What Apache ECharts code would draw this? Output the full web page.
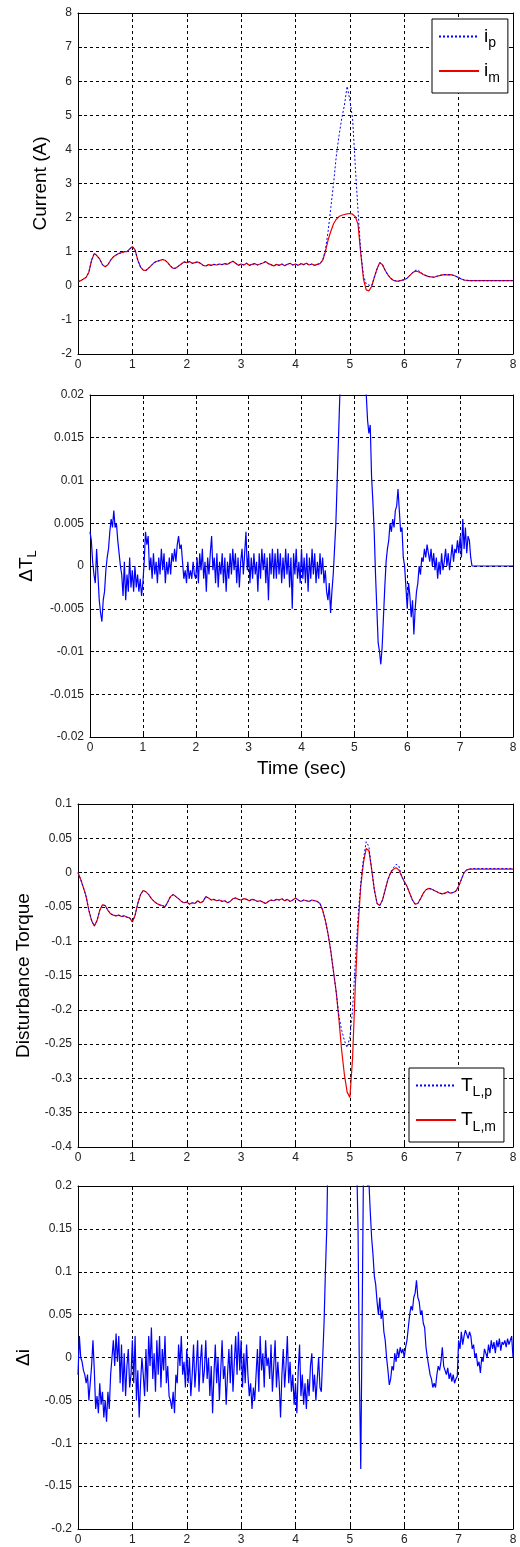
<!DOCTYPE html>
<html>
<head>
<meta charset="utf-8">
<script src="https://cdn.jsdelivr.net/npm/echarts@6/dist/echarts.min.js"></script>
<style>
html,body{margin:0;padding:0;background:#fff;}
#c{width:520px;height:1547px;}
</style>
</head>
<body>
<div id="c"></div>
<script>
// ---------- Data ----------
const xTicks = [0,1,2,3,4,5,6,7,8];
const STEP_SMOOTH = 0.05;   // sampling of panels 1 and 3
const STEP_NOISY = 0.025;   // sampling of panels 2 and 4

// Panel 1: Current (A)
const currentIm = [
0.12,0.15,0.2,0.25,0.4,0.75,0.95,0.88,0.78,0.62,
0.56,0.62,0.75,0.85,0.9,0.95,0.97,1.0,1.0,1.08,
1.15,1.05,0.75,0.55,0.46,0.45,0.52,0.6,0.68,0.72,
0.74,0.77,0.75,0.68,0.58,0.51,0.52,0.58,0.64,0.7,
0.68,0.71,0.66,0.68,0.7,0.66,0.6,0.58,0.62,0.6,
0.63,0.61,0.64,0.62,0.65,0.63,0.68,0.72,0.66,0.6,
0.64,0.61,0.66,0.6,0.63,0.65,0.61,0.64,0.67,0.71,
0.65,0.62,0.58,0.63,0.6,0.64,0.59,0.63,0.66,0.61,
0.64,0.6,0.65,0.62,0.66,0.61,0.64,0.6,0.63,0.65,
0.75,1.0,1.35,1.6,1.82,1.95,2.03,2.07,2.09,2.11,
2.12,2.1,2.03,1.8,0.95,0.2,-0.12,-0.15,-0.02,0.25,
0.5,0.68,0.62,0.45,0.32,0.22,0.16,0.14,0.14,0.16,
0.18,0.22,0.3,0.38,0.43,0.42,0.38,0.33,0.3,0.27,
0.26,0.25,0.28,0.3,0.32,0.33,0.32,0.33,0.31,0.28,
0.24,0.2,0.17,0.16,0.15,0.15,0.15,0.15,0.15,0.15,
0.15,0.15,0.15,0.15,0.15,0.15,0.15,0.15,0.15,0.15,
0.15
];
const currentIp = [
0.12,0.15,0.2,0.25,0.4,0.75,0.95,0.88,0.78,0.62,
0.56,0.62,0.75,0.85,0.9,0.95,0.97,1.0,1.0,1.08,
1.15,1.05,0.75,0.55,0.46,0.45,0.52,0.6,0.68,0.72,
0.74,0.77,0.75,0.68,0.58,0.51,0.52,0.58,0.64,0.7,
0.68,0.71,0.66,0.68,0.7,0.66,0.6,0.58,0.62,0.6,
0.63,0.61,0.64,0.62,0.65,0.63,0.68,0.72,0.66,0.6,
0.64,0.61,0.66,0.6,0.63,0.65,0.61,0.64,0.67,0.71,
0.65,0.62,0.58,0.63,0.6,0.64,0.59,0.63,0.66,0.61,
0.64,0.6,0.65,0.62,0.66,0.61,0.64,0.6,0.63,0.65,
0.75,1.05,1.6,2.3,3.0,3.8,4.4,4.9,5.3,5.85,
5.45,4.9,3.5,2.2,1.0,0.3,0.05,0.02,0.0,0.25,
0.5,0.68,0.62,0.45,0.32,0.22,0.16,0.14,0.14,0.16,
0.18,0.22,0.3,0.38,0.45,0.47,0.4,0.33,0.3,0.27,
0.26,0.25,0.28,0.3,0.32,0.33,0.32,0.33,0.31,0.28,
0.24,0.2,0.17,0.16,0.15,0.15,0.15,0.15,0.15,0.15,
0.15,0.15,0.15,0.15,0.15,0.15,0.15,0.15,0.15,0.15,
0.15
];

// Panel 2: Delta T_L
const deltaTL = [
0.004,0.003,0.0005,-0.001,-0.002,0.002,-0.001,-0.004,-0.0055,-0.0065,-0.004,-0.003,-0.0005,0.001,0.002,0.004,0.0055,0.0045,0.0065,0.0045,
0.005,0.003,0.0015,0.0,-0.001,-0.0035,0.0005,-0.004,-0.001,-0.003,0.001,-0.0025,-0.0005,-0.003,0.0,-0.0025,-0.001,-0.003,-0.0015,-0.0035,
-0.002,0.0005,0.004,0.0025,0.0035,-0.0005,0.001,-0.0015,0.0015,-0.001,0.0005,-0.002,0.001,-0.001,0.002,-0.0005,0.0015,-0.002,0.0005,-0.001,
0.001,-0.001,0.0015,0.0005,0.002,0.0005,0.0025,0.0035,0.002,0.0025,0.0005,-0.0015,-0.0005,-0.002,0.0005,-0.0015,-0.0005,-0.0015,0.0005,-0.001,
-0.0015,0.001,-0.002,0.0015,-0.0005,0.002,-0.0015,0.0005,-0.003,0.001,-0.001,0.0015,0.0035,-0.0005,0.001,-0.002,0.0015,-0.0025,0.0005,-0.001,
0.0015,-0.002,0.001,-0.003,0.0005,-0.0015,0.0015,-0.001,0.002,-0.0005,0.0015,-0.002,0.001,-0.0025,0.0005,0.002,-0.001,0.0015,0.004,-0.0005,
0.0015,-0.002,0.001,-0.0015,0.0015,-0.001,0.0005,-0.003,0.0015,-0.0015,0.002,-0.0005,0.0015,-0.002,0.001,-0.004,0.0015,-0.001,0.002,-0.0015,
0.0015,-0.0015,0.002,-0.001,0.0015,-0.002,0.001,-0.0015,0.002,-0.001,0.0015,-0.0025,0.001,-0.005,0.0015,-0.001,0.002,-0.0015,0.0005,-0.002,
0.002,-0.0015,0.001,-0.002,0.0015,-0.003,0.001,-0.0015,0.002,-0.001,0.0015,-0.002,0.0005,-0.0015,0.0015,-0.001,0.001,-0.002,-0.0005,-0.003,
-0.004,-0.002,-0.0055,-0.003,-0.001,0.002,0.005,0.01,0.015,0.02,0.026,0.032,0.038,0.042,0.045,0.047,0.048,0.048,0.047,0.046,
0.045,0.043,0.04,0.037,0.035,0.032,0.03,0.027,0.024,0.02,0.017,0.0155,0.0165,0.0105,0.0075,0.004,-0.001,-0.005,-0.009,-0.01,
-0.0115,-0.0095,-0.006,-0.0025,0.0005,0.002,0.003,0.005,0.004,0.0055,0.0045,0.0065,0.007,0.009,0.0065,0.004,0.0045,0.001,0.0,-0.0025,
-0.005,-0.002,-0.0035,-0.006,-0.004,-0.008,-0.005,-0.003,-0.002,0.0,-0.001,0.001,0.0005,0.002,0.001,0.0025,0.0015,0.0005,0.002,0.0,
0.0015,-0.0005,0.001,-0.0015,0.0005,-0.001,0.0015,-0.0005,0.0005,0.002,0.0,0.0015,-0.0005,0.001,0.0025,0.0005,0.002,0.0015,0.003,0.0015,
0.0035,0.001,0.0055,0.002,0.0045,0.0015,0.0035,0.003,0.001,0.0,0,0,0,0,0,0,0,0,0,0,
0,0,0,0,0,0,0,0,0,0,0,0,0,0,0,0,0,0,0,0,
0
];

// Panel 3: Disturbance torque
const torqueTm = [
0.0,-0.01,-0.022,-0.035,-0.055,-0.07,-0.078,-0.07,-0.055,-0.047,
-0.048,-0.055,-0.06,-0.062,-0.063,-0.062,-0.064,-0.063,-0.065,-0.066,
-0.072,-0.062,-0.045,-0.032,-0.026,-0.028,-0.032,-0.038,-0.042,-0.045,
-0.047,-0.048,-0.05,-0.043,-0.035,-0.032,-0.035,-0.038,-0.042,-0.044,
-0.043,-0.046,-0.044,-0.045,-0.041,-0.044,-0.042,-0.035,-0.037,-0.04,
-0.039,-0.041,-0.04,-0.042,-0.041,-0.044,-0.042,-0.038,-0.037,-0.039,
-0.04,-0.038,-0.039,-0.041,-0.039,-0.04,-0.042,-0.041,-0.043,-0.045,
-0.042,-0.04,-0.041,-0.039,-0.04,-0.038,-0.041,-0.039,-0.042,-0.04,
-0.037,-0.04,-0.042,-0.04,-0.041,-0.042,-0.04,-0.041,-0.042,-0.045,
-0.055,-0.07,-0.09,-0.115,-0.145,-0.175,-0.215,-0.26,-0.295,-0.32,
-0.328,-0.27,-0.165,-0.08,-0.02,0.015,0.035,0.032,0.005,-0.025,
-0.045,-0.048,-0.04,-0.025,-0.01,0.0,0.005,0.007,0.004,-0.005,
-0.013,-0.02,-0.03,-0.04,-0.046,-0.045,-0.038,-0.03,-0.025,-0.023,
-0.024,-0.026,-0.028,-0.03,-0.031,-0.03,-0.028,-0.03,-0.029,-0.027,
-0.02,-0.01,0.0,0.004,0.005,0.005,0.005,0.005,0.005,0.005,
0.005,0.005,0.005,0.005,0.005,0.005,0.005,0.005,0.005,0.005,
0.005
];
const torqueTp = [
0.0,-0.01,-0.022,-0.035,-0.055,-0.07,-0.078,-0.07,-0.055,-0.047,
-0.048,-0.055,-0.06,-0.062,-0.063,-0.062,-0.064,-0.063,-0.065,-0.066,
-0.072,-0.062,-0.045,-0.032,-0.026,-0.028,-0.032,-0.038,-0.042,-0.045,
-0.047,-0.048,-0.05,-0.043,-0.035,-0.032,-0.035,-0.038,-0.042,-0.044,
-0.043,-0.046,-0.044,-0.045,-0.041,-0.044,-0.042,-0.035,-0.037,-0.04,
-0.039,-0.041,-0.04,-0.042,-0.041,-0.044,-0.042,-0.038,-0.037,-0.039,
-0.04,-0.038,-0.039,-0.041,-0.039,-0.04,-0.042,-0.041,-0.043,-0.045,
-0.042,-0.04,-0.041,-0.039,-0.04,-0.038,-0.041,-0.039,-0.042,-0.04,
-0.037,-0.04,-0.042,-0.04,-0.041,-0.042,-0.04,-0.041,-0.042,-0.045,
-0.055,-0.07,-0.09,-0.115,-0.145,-0.175,-0.21,-0.23,-0.245,-0.255,
-0.24,-0.2,-0.13,-0.065,-0.015,0.02,0.045,0.038,0.005,-0.025,
-0.045,-0.048,-0.04,-0.025,-0.01,0.0,0.007,0.012,0.01,-0.005,
-0.013,-0.02,-0.03,-0.04,-0.046,-0.045,-0.038,-0.03,-0.025,-0.023,
-0.024,-0.026,-0.028,-0.03,-0.031,-0.03,-0.028,-0.03,-0.029,-0.027,
-0.02,-0.01,0.0,0.004,0.005,0.006,0.006,0.006,0.006,0.006,
0.006,0.006,0.006,0.006,0.006,0.006,0.006,0.006,0.006,0.006,
0.006
];

// Panel 4: Delta i
const deltaI = [
-0.02,0.025,0.0,-0.005,-0.015,-0.02,-0.03,-0.02,-0.05,-0.03,-0.01,0.02,-0.015,-0.06,-0.045,-0.065,-0.03,-0.055,-0.04,-0.07,
-0.05,-0.075,-0.04,-0.06,-0.02,0.0,0.02,-0.01,0.028,-0.005,0.025,-0.03,0.015,-0.04,0.005,-0.045,-0.01,0.01,-0.035,-0.02,
0.02,-0.03,0.025,-0.05,-0.015,-0.07,-0.03,0.0,-0.02,-0.045,0.01,-0.04,0.025,-0.01,0.035,-0.025,0.005,-0.04,0.02,-0.02,
0.025,-0.035,0.01,-0.015,0.025,-0.03,-0.01,-0.045,-0.05,-0.06,-0.04,-0.065,-0.02,-0.03,0.015,-0.01,0.025,-0.02,-0.005,-0.035,
0.01,-0.03,0.0,-0.045,-0.02,0.015,-0.035,-0.01,0.02,-0.04,-0.005,0.015,-0.03,-0.015,0.02,-0.025,0.0,-0.045,-0.01,-0.065,
-0.02,0.015,-0.03,0.0,-0.05,-0.015,0.02,-0.025,-0.01,-0.055,-0.02,0.01,-0.03,0.015,-0.04,-0.005,0.025,-0.02,0.03,-0.015,
0.02,-0.035,0.005,-0.03,0.015,-0.02,-0.045,-0.03,-0.06,-0.035,-0.05,-0.02,0.01,-0.04,0.025,-0.015,0.005,-0.035,0.02,-0.01,
0.0,-0.025,0.015,-0.04,-0.01,0.02,-0.035,-0.005,-0.03,-0.07,-0.02,0.01,-0.035,-0.01,0.025,-0.03,-0.005,-0.04,-0.02,-0.055,
-0.03,-0.065,-0.015,0.015,-0.045,-0.02,-0.055,-0.03,-0.06,-0.025,-0.045,-0.01,0.005,-0.04,-0.02,-0.05,-0.025,0.0,-0.035,-0.04,
0.0,0.04,0.1,0.15,0.25,0.32,0.38,0.43,0.47,0.5,0.52,0.53,0.53,0.52,0.5,0.47,0.44,0.4,0.37,0.34,
0.32,0.3,0.28,0.27,0.25,0.23,0.15,-0.02,-0.13,0.04,0.22,0.23,0.21,0.2,0.205,0.17,0.14,0.12,0.095,0.085,
0.065,0.05,0.07,0.045,0.055,0.03,0.02,0.0,-0.015,-0.032,-0.025,-0.01,-0.015,0.005,-0.005,0.01,0.0,0.012,0.005,0.01,
0.0,0.012,0.02,0.035,0.05,0.06,0.055,0.07,0.075,0.09,0.07,0.065,0.05,0.055,0.04,0.035,0.012,0.0,-0.01,-0.02,
-0.025,-0.035,-0.03,-0.035,-0.02,-0.01,-0.015,-0.005,0.012,-0.01,-0.015,-0.02,-0.012,-0.025,-0.018,-0.028,-0.02,-0.03,-0.025,-0.022,
0.02,0.01,0.03,0.015,0.025,0.032,0.03,0.022,0.03,0.025,0.01,0.015,0.0,0.005,-0.01,-0.005,-0.018,0.0,-0.005,0.01,
0.012,0.0,0.015,0.005,0.02,0.01,0.018,0.005,0.02,0.012,0.022,0.008,0.018,0.015,0.02,0.012,0.022,0.015,0.02,0.025,
0.0
];

// ---------- Build ----------
function pairs(vals, step){ return vals.map((v,i)=>[+(i*step).toFixed(4), v]); }

const FONT = 'Liberation Sans, Arial, sans-serif';
const grids = [
  {left:78, top:13, width:435, height:341},
  {left:90, top:395, width:423, height:342},
  {left:78, top:804, width:435, height:343},
  {left:78, top:1186, width:435, height:343}
];
const yRanges = [
  {min:-2, max:8, interval:1},
  {min:-0.02, max:0.02, interval:0.005},
  {min:-0.4, max:0.1, interval:0.05},
  {min:-0.2, max:0.2, interval:0.05}
];

const gridLine = {show:true, lineStyle:{color:'#000', type:[3,3], width:1}};
const axisLineS = {show:true, onZero:false, lineStyle:{color:'#000', width:1}};
const tickS = {show:true, inside:true, length:4, lineStyle:{color:'#000'}};
const labelS = {color:'#222', fontSize:12, fontFamily:FONT};

const xAxes = [], yAxes = [];
grids.forEach((g,i)=>{
  xAxes.push({type:'value', gridIndex:i, min:0, max:8, interval:1, position:'bottom',
    axisLine:axisLineS, axisTick:tickS, splitLine:gridLine,
    axisLabel:Object.assign({margin:5}, labelS)});
  xAxes.push({type:'value', gridIndex:i, min:0, max:8, interval:1, position:'top',
    axisLine:axisLineS, axisTick:tickS, splitLine:{show:false}, axisLabel:{show:false}});
  yAxes.push(Object.assign({type:'value', gridIndex:i, position:'left',
    axisLine:axisLineS, axisTick:tickS, splitLine:gridLine,
    axisLabel:Object.assign({margin:6}, labelS)}, yRanges[i]));
  yAxes.push(Object.assign({type:'value', gridIndex:i, position:'right',
    axisLine:axisLineS, axisTick:tickS, splitLine:{show:false}, axisLabel:{show:false}}, yRanges[i]));
});

const nameFont = {fontFamily:FONT, color:'#000', fontSize:19};
const subRich = {
  a:{fontFamily:FONT, color:'#000', fontSize:19},
  s:{fontFamily:FONT, color:'#000', fontSize:13, padding:[12,0,0,0]}
};
yAxes[0].name = 'Current (A)';
yAxes[0].nameLocation = 'middle'; yAxes[0].nameGap = 26; yAxes[0].nameTextStyle = nameFont;
yAxes[2].name = '{a|ΔT}{s|L}';
yAxes[2].nameLocation = 'middle'; yAxes[2].nameGap = 50; yAxes[2].nameTextStyle = {rich:subRich};
yAxes[4].name = 'Disturbance Torque';
yAxes[4].nameLocation = 'middle'; yAxes[4].nameGap = 44; yAxes[4].nameTextStyle = nameFont;
yAxes[6].name = 'Δi';
yAxes[6].nameLocation = 'middle'; yAxes[6].nameGap = 40; yAxes[6].nameTextStyle = nameFont;
xAxes[2].name = 'Time (sec)';
xAxes[2].nameLocation = 'middle'; xAxes[2].nameGap = 22; xAxes[2].nameTextStyle = Object.assign({verticalAlign:'top'}, nameFont);

const legendNames = {
  'ip':'{a|i}{s|p}', 'im':'{a|i}{s|m}',
  'TLp':'{a|T}{s|L,p}', 'TLm':'{a|T}{s|L,m}'
};
const legendRich = {
  a:{fontFamily:FONT, color:'#000', fontSize:19},
  s:{fontFamily:FONT, color:'#000', fontSize:14, padding:[14,0,0,0]}
};
function legendCfg(data, pos){
  return Object.assign({data:data, orient:'vertical', itemWidth:40, itemHeight:14, itemGap:11,
    padding:[8,8,8,6], borderColor:'#000', borderWidth:1, backgroundColor:'#fff',
    selectedMode:false, itemStyle:{opacity:0},
    formatter:n=>legendNames[n], textStyle:{rich:legendRich}}, pos);
}

const lineBase = {type:'line', showSymbol:false, symbol:'none', animation:false, clip:true};
const series = [
  Object.assign({name:'ip', xAxisIndex:0, yAxisIndex:0, data:pairs(currentIp, STEP_SMOOTH), lineStyle:{color:'#0000ff', width:1, type:[2,2]}, itemStyle:{color:'#0000ff'}, z:3}, lineBase),
  Object.assign({name:'im', xAxisIndex:0, yAxisIndex:0, data:pairs(currentIm, STEP_SMOOTH), lineStyle:{color:'#ee0000', width:1.2}, itemStyle:{color:'#ee0000'}, z:2}, lineBase),
  Object.assign({name:'dTL', xAxisIndex:2, yAxisIndex:2, data:pairs(deltaTL, STEP_NOISY), lineStyle:{color:'#0000ff', width:1.2}, itemStyle:{color:'#0000ff'}}, lineBase),
  Object.assign({name:'TLp', xAxisIndex:4, yAxisIndex:4, data:pairs(torqueTp, STEP_SMOOTH), lineStyle:{color:'#0000ff', width:1, type:[2,2]}, itemStyle:{color:'#0000ff'}, z:3}, lineBase),
  Object.assign({name:'TLm', xAxisIndex:4, yAxisIndex:4, data:pairs(torqueTm, STEP_SMOOTH), lineStyle:{color:'#ee0000', width:1.2}, itemStyle:{color:'#ee0000'}, z:2}, lineBase),
  Object.assign({name:'dI', xAxisIndex:6, yAxisIndex:6, data:pairs(deltaI, STEP_NOISY), lineStyle:{color:'#0000ff', width:1.2}, itemStyle:{color:'#0000ff'}}, lineBase)
];

const chart = echarts.init(document.getElementById('c'), null, {renderer:'canvas'});
chart.setOption({
  animation:false,
  backgroundColor:'#fff',
  grid:grids,
  xAxis:xAxes,
  yAxis:yAxes,
  legend:[
    legendCfg(['ip','im'], {left:432, top:19}),
    legendCfg(['TLp','TLm'], {left:409, top:1068})
  ],
  series:series
});
</script>
</body>
</html>
